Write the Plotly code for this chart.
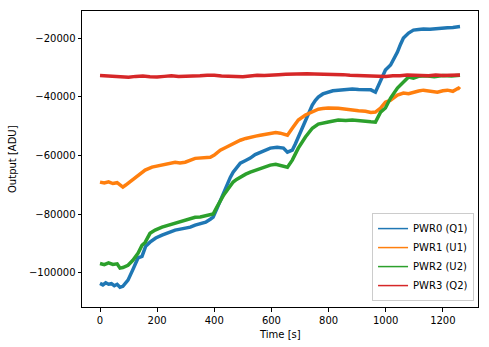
import plotly.graph_objects as go

# ---- data ----
t_q1 = [0, 10, 20, 30, 40, 50, 60, 70, 80, 90, 98, 115, 133, 147, 160, 175, 195, 217, 240, 263, 290, 316, 333, 351, 370, 386, 396,
        410, 421, 433, 445, 456, 466, 478, 491, 508, 526, 543, 561, 580, 596, 620, 642, 656, 673, 684, 694, 707, 719, 731, 743,
        754, 764, 780, 799, 815, 834, 860, 883, 905, 929, 948, 964, 982, 999, 1017, 1030, 1041, 1052, 1062, 1080, 1097, 1115,
        1132, 1155, 1181, 1200, 1216, 1235, 1255, 1260]
v_q1 = [-103700, -104200, -103500, -104000, -103800, -104500, -104000, -105000, -104700, -103500, -102600, -99000, -95000,
        -94500, -91000, -89600, -88200, -87200, -86200, -85500, -85000, -84500, -83800, -83200, -82800, -81800, -81100,
        -78000, -75300, -72500, -69500, -67500, -65700, -64200, -62600, -61800, -60900, -59700, -58900, -58000, -57500,
        -57200, -57500, -58900, -58200, -56000, -53700, -51000, -47900, -45300, -42800, -41200, -40100, -39000, -38400,
        -37900, -37700, -37400, -37300, -37500, -37700, -37600, -38400, -34300, -30800, -29100, -26800, -24700, -22000,
        -19900, -18200, -17200, -17000, -16800, -16900, -16600, -16500, -16400, -16300, -16100, -16000]

t_u1 = [0, 15, 30, 45, 60, 70, 80, 90, 98, 115, 133, 158, 182, 200, 217, 240, 263, 280, 298, 333, 351, 386, 400, 421, 440, 456,
        475, 491, 510, 526, 545, 561, 580, 596, 615, 631, 645, 656, 673, 694, 719, 743, 764, 780, 799, 834, 860, 883, 905, 929,
        948, 964, 982, 999, 1017, 1041, 1062, 1080, 1097, 1115, 1132, 1155, 1181, 1200, 1216, 1235, 1255, 1260]
v_u1 = [-69100, -69400, -69000, -69600, -69300, -70200, -70800, -70100, -69500, -68300, -66700, -65000, -64000, -63600,
        -63300, -62800, -62300, -62600, -62300, -61000, -60900, -60600, -59900, -58200, -57300, -56500, -55500, -54800,
        -54200, -53700, -53400, -53100, -52800, -52400, -52200, -52400, -52800, -53100, -50700, -47900, -46200, -45200,
        -44200, -44000, -43800, -43900, -44300, -44500, -44700, -44900, -45300, -45200, -43800, -41800, -41100, -39400,
        -38700, -38900, -38400, -38000, -37700, -37900, -38400, -37900, -37700, -38100, -37000, -37400]

t_u2 = [0, 15, 30, 45, 60, 70, 80, 90, 98, 115, 133, 147, 158, 175, 193, 217, 240, 263, 280, 298, 316, 333, 351, 370, 386, 396,
        410, 421, 433, 445, 456, 466, 478, 491, 510, 526, 545, 561, 580, 596, 615, 631, 645, 656, 673, 694, 719, 743, 764, 780,
        799, 834, 860, 883, 905, 929, 948, 964, 982, 999, 1017, 1041, 1062, 1080, 1097, 1115, 1140, 1170, 1200, 1230, 1260]
v_u2 = [-96900, -97300, -96700, -97200, -97000, -98500, -98300, -97800, -97500, -95800, -93400, -90700, -89700, -86600,
        -85500, -84500, -83800, -83200, -82700, -82100, -81700, -81100, -81000, -80600, -80100, -80000, -77500, -75300,
        -73500, -71900, -70300, -69100, -68200, -67400, -66400, -65700, -65000, -64300, -63700, -63300, -63000, -63300,
        -63600, -64000, -61600, -57500, -53700, -50700, -49300, -48900, -48600, -47900, -48100, -47900, -48000, -48300,
        -48500, -48600, -45200, -43800, -40400, -37000, -34900, -33200, -33600, -33000, -32800, -33100, -32700, -32900,
        -32600]

t_q2 = [0, 25, 50, 75, 100, 125, 150, 175, 200, 225, 250, 275, 300, 325, 350, 375, 400, 425, 450, 475, 500, 525, 550, 575,
        600, 625, 650, 675, 700, 725, 750, 775, 800, 825, 850, 875, 900, 925, 950, 975, 1000, 1025, 1050, 1075, 1100, 1125,
        1150, 1175, 1200, 1225, 1260]
v_q2 = [-32700, -32900, -33000, -33300, -33300, -33000, -32900, -33100, -33200, -33000, -32800, -33000, -33000, -32700,
        -32800, -32600, -32600, -32900, -32800, -33000, -33100, -32800, -32600, -32700, -32400, -32400, -32300, -32200,
        -32000, -32100, -32200, -32200, -32300, -32400, -32400, -32600, -32700, -32700, -32800, -32900, -33000, -32800,
        -32800, -32500, -32600, -32800, -32800, -32500, -32700, -32600, -32500]

series_names = ["PWR0 (Q1)", "PWR1 (U1)", "PWR2 (U2)", "PWR3 (Q2)"]
colors = ["#1f77b4", "#ff7f0e", "#2ca02c", "#d62728"]

x_ticks = [0, 200, 400, 600, 800, 1000, 1200]
x_ticktext = ["0", "200", "400", "600", "800", "1000", "1200"]
y_ticks = [-100000, -80000, -60000, -40000, -20000]
y_ticktext = ["\u2212100000", "\u221280000", "\u221260000", "\u221240000", "\u221220000"]
x_title = "Time [s]"
y_title = "Output [ADU]"

fig = go.Figure()
for (tx, vy), name, c in zip([(t_q1, v_q1), (t_u1, v_u1), (t_u2, v_u2), (t_q2, v_q2)], series_names, colors):
    fig.add_trace(go.Scatter(x=tx, y=vy, mode="lines", name=name, showlegend=False,
                             legendgroup=name, line=dict(color=c, width=3.5)))
# thin legend samples (matplotlib-style legend handles)
for name, c in zip(series_names, colors):
    fig.add_trace(go.Scatter(x=[None], y=[None], mode="lines", name=name, legendgroup=name,
                             line=dict(color=c, width=1.5)))

axis_common = dict(showgrid=False, zeroline=False, showline=True, linecolor="black", linewidth=1,
                   mirror=True, ticks="outside", ticklen=3.5, tickwidth=1, tickcolor="black",
                   automargin=False,
                   tickfont=dict(family="DejaVu Sans", size=10, color="black"))

fig.update_layout(
    width=489, height=347,
    margin=dict(l=82, r=11, t=11, b=40),
    paper_bgcolor="white", plot_bgcolor="white",
    font=dict(family="DejaVu Sans", size=10, color="black"),
    xaxis=dict(range=[-63, 1323], tickvals=x_ticks, ticktext=x_ticktext, **axis_common),
    yaxis=dict(range=[-111760, -10670], tickvals=y_ticks, ticktext=y_ticktext, **axis_common),
    legend=dict(x=0.99, y=0.02, xanchor="right", yanchor="bottom",
                bgcolor="rgba(255,255,255,0.8)", bordercolor="#cccccc", borderwidth=1,
                font=dict(size=10), tracegroupgap=0),
    showlegend=True,
    annotations=[
        dict(text=x_title, xref="paper", yref="paper", x=0.5, y=0, xanchor="center", yanchor="middle",
             yshift=-27, showarrow=False, font=dict(size=10)),
        dict(text=y_title, xref="paper", yref="paper", x=0, y=0.5, xanchor="center", yanchor="middle",
             xshift=-70, textangle=-90, showarrow=False, font=dict(size=10)),
    ],
)

fig.write_html("out.html")
